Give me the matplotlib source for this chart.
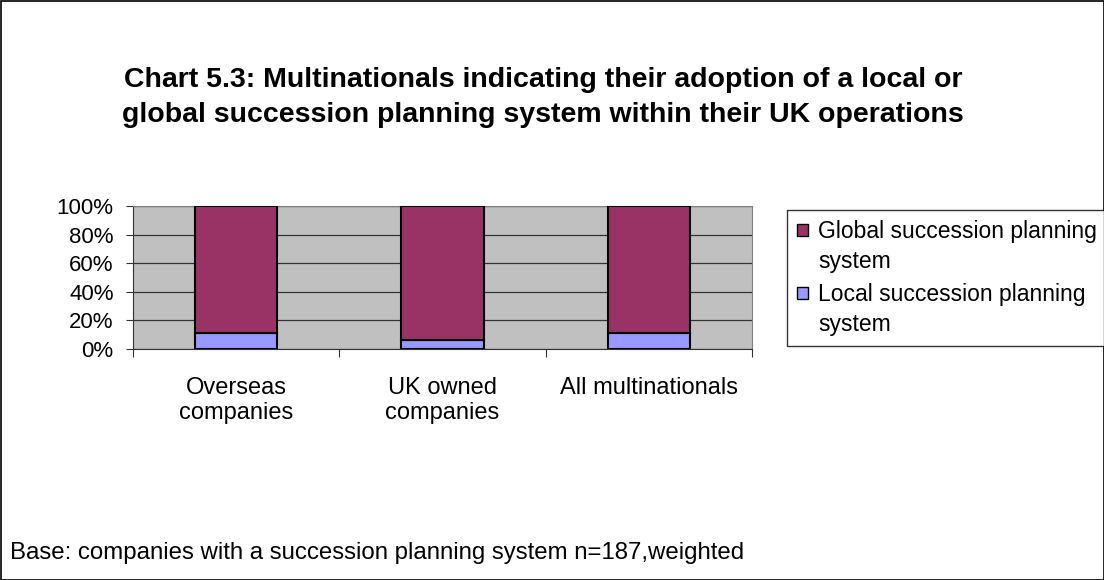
import matplotlib
matplotlib.use("Agg")
import matplotlib.pyplot as plt
from matplotlib.container import BarContainer
from matplotlib.patches import Rectangle
from matplotlib.legend_handler import HandlerPatch, update_from_first_child
import numpy as np

plt.rcParams["font.family"] = ["Liberation Sans", "DejaVu Sans"]

CATEGORIES = ["Overseas\ncompanies", "UK owned\ncompanies", "All multinationals"]
LOCAL = [11, 6, 11]
GLOBAL = [89, 94, 89]
SERIES_NAMES = ["Global succession planning\nsystem", "Local succession planning\nsystem"]
COLOR_GLOBAL = "#993366"
COLOR_LOCAL = "#9999FF"

W, H = 1104, 580
fig = plt.figure(figsize=(W / 100, H / 100), dpi=100)
fig.patches.append(Rectangle((0.5 / W, 0.5 / H), 1 - 1 / W, 1 - 1 / H, transform=fig.transFigure,
                             fill=False, edgecolor="black", lw=1.2))

ax = fig.add_axes([133 / W, 1 - 349 / H, (752 - 133) / W, (349 - 206) / H])
ax.set_facecolor("#C0C0C0")

x = np.arange(len(CATEGORIES))
width = 0.4
ax.bar(x, LOCAL, width, color=COLOR_LOCAL, edgecolor="black", lw=1.5, zorder=3,
       label=SERIES_NAMES[1])
ax.bar(x, GLOBAL, width, bottom=LOCAL, color=COLOR_GLOBAL, edgecolor="black", lw=1.5, zorder=3,
       label=SERIES_NAMES[0])

ax.set_xlim(-0.5, len(CATEGORIES) - 0.5)
ax.set_ylim(0, 100)
ax.set_yticks(range(0, 101, 20))
ax.set_yticklabels([f"{v}%" for v in range(0, 101, 20)], fontsize=16)
ax.yaxis.grid(True, color="#333333", lw=0.9, zorder=1)

ax.set_xticks(np.arange(-0.5, len(CATEGORIES), 1.0))
ax.set_xticklabels([])
ax.set_xticks(x, minor=True)
ax.set_xticklabels(CATEGORIES, minor=True, fontsize=17)
ax.tick_params(axis="x", which="minor", length=0, pad=20)
ax.tick_params(axis="x", which="major", length=6, direction="out", color="#333333")
ax.tick_params(axis="y", length=5, direction="out", color="#333333", pad=9)

for side in ["top", "right"]:
    ax.spines[side].set_color("#808080")
for side in ["left", "bottom"]:
    ax.spines[side].set_color("#333333")


def first_line_box(legend, orig_handle, xdescent, ydescent, width, height, fontsize):
    # square next to the first line of a two-line label
    return Rectangle((-xdescent, -ydescent + 12.5), width, height)


handles, labels = ax.get_legend_handles_labels()
leg = fig.legend(handles[::-1], labels[::-1], loc="upper left",
                 bbox_to_anchor=(787 / W, 1 - 210 / H), fontsize=16.5,
                 frameon=True, fancybox=False, edgecolor="black",
                 handlelength=0.45, handleheight=0.45, handletextpad=0.45,
                 labelspacing=0.45, borderpad=0.45, borderaxespad=0,
                 handler_map={BarContainer: HandlerPatch(patch_func=first_line_box,
                                                         update_func=update_from_first_child)})
leg.get_frame().set_linewidth(1.0)
for t in leg.get_texts():
    t.set_linespacing(1.36)
for h in leg.legend_handles:
    h.set_linewidth(1.0)

fig.text(543 / W, 1 - 97 / H,
         "Chart 5.3: Multinationals indicating their adoption of a local or\n"
         "global succession planning system within their UK operations",
         ha="center", va="center", fontsize=20.5, fontweight="bold", linespacing=1.45)

fig.text(10 / W, 1 - 553 / H,
         "Base: companies with a succession planning system n=187,weighted",
         ha="left", va="center", fontsize=17.3)

fig.savefig("out.png", dpi=100)
